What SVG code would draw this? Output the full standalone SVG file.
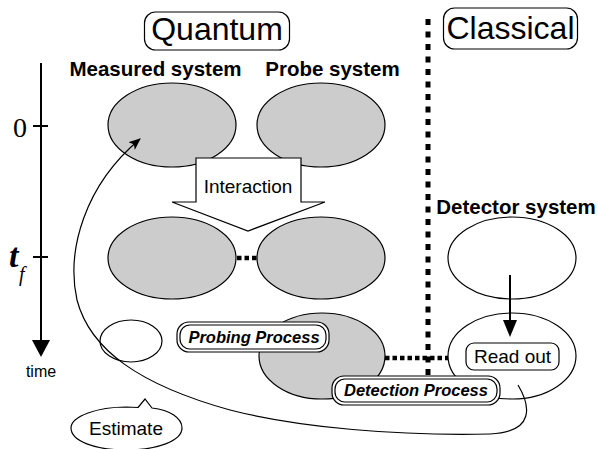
<svg xmlns="http://www.w3.org/2000/svg" width="598" height="449" viewBox="0 0 598 449">
<style>
.sans{font-family:"Liberation Sans",Arial,sans-serif;fill:#000}
.serif{font-family:"Liberation Serif","Times New Roman",serif;fill:#000}
.title{font-size:32px}
.hdr{font-size:20.5px;font-weight:bold}
.lbl{font-size:19px}
.proc{font-size:16.5px;font-weight:bold;font-style:italic}
.grey{fill:#cccccc;stroke:#000;stroke-width:1.2}
.white{fill:#fff;stroke:#000;stroke-width:1.2}
.open{fill:none;stroke:#000;stroke-width:1.2}
.dots{fill:none;stroke:#000;stroke-width:4.5;stroke-dasharray:4.5 3}
</style>
<defs>
<marker id="ah" markerWidth="12" markerHeight="10" refX="11" refY="5" orient="auto" markerUnits="userSpaceOnUse">
<path d="M0,0 L12,5 L0,10 L3,5 Z" fill="#000"/>
</marker>
</defs>
<rect width="598" height="449" fill="#fff"/>

<!-- time axis -->
<g id="time-axis">
<line x1="41" y1="63" x2="41" y2="342" stroke="#000" stroke-width="2"/>
<path d="M32,340 L50,340 L41,357 Z" fill="#000"/>
<line x1="33" y1="126" x2="48" y2="126" stroke="#000" stroke-width="2"/>
<line x1="33" y1="257" x2="48" y2="257" stroke="#000" stroke-width="2"/>
<text x="20" y="137" class="serif" font-size="28" text-anchor="middle">0</text>
<text x="9" y="267" class="serif" font-size="34" font-style="italic" font-weight="bold">t</text>
<text x="19" y="281" class="serif" font-size="20" font-style="italic">f</text>
<text x="41" y="377" class="sans" font-size="16" text-anchor="middle">time</text>
</g>

<!-- titles -->
<g id="quantum">
<rect x="144.5" y="12" width="145" height="38" rx="11" class="white"/>
<text x="217" y="40" class="sans title" text-anchor="middle">Quantum</text>
</g>
<g id="classical">
<rect x="443.5" y="8" width="134" height="41" rx="11" class="white"/>
<text x="510.5" y="39" class="sans title" text-anchor="middle">Classical</text>
</g>

<!-- boundary -->
<g id="boundary">
<line x1="428" y1="19" x2="428" y2="376" stroke="#000" stroke-width="5" stroke-dasharray="6 6.5"/>
</g>

<!-- headers -->
<text x="155.5" y="76" class="sans hdr" text-anchor="middle">Measured system</text>
<text x="332.5" y="76" class="sans hdr" text-anchor="middle">Probe system</text>
<text x="516" y="214" class="sans hdr" font-size="20.5" text-anchor="middle">Detector system</text>

<!-- top ellipses -->
<g id="measured-0"><ellipse cx="172" cy="125" rx="64" ry="42" class="grey"/></g>
<g id="probe-0"><ellipse cx="321" cy="125" rx="64" ry="42" class="grey"/></g>

<!-- interaction arrow -->
<g id="interaction">
<path d="M196,158 L301,158 L301,202 L325,202 L248,231 L172,202 L196,202 Z" class="white"/>
<text x="248" y="193" class="sans lbl" text-anchor="middle">Interaction</text>
</g>

<!-- middle ellipses -->
<g id="measured-tf"><ellipse cx="172" cy="258" rx="64" ry="41" class="grey"/></g>
<g id="probe-tf"><ellipse cx="321" cy="258" rx="64" ry="41" class="grey"/></g>
<g id="detector-tf"><ellipse cx="512" cy="258" rx="64" ry="41" class="white"/></g>

<!-- bottom row -->
<g id="estimate-state"><ellipse cx="131" cy="341" rx="31" ry="21" class="open"/></g>
<g id="probe-final"><ellipse cx="322" cy="356" rx="63" ry="43" class="grey"/></g>
<g id="detector-final">
<ellipse cx="512" cy="356" rx="64" ry="43" class="white"/>
<rect x="466" y="343" width="93" height="27" rx="8" class="white"/>
<text x="512.5" y="363" class="sans lbl" text-anchor="middle">Read out</text>
</g>

<!-- connectors -->
<g id="connectors">
<line x1="237" y1="258" x2="257" y2="258" class="dots"/>
<line x1="385" y1="358" x2="448" y2="358" class="dots"/>
<line x1="510" y1="275" x2="510" y2="322" stroke="#000" stroke-width="2"/>
<path d="M503,320 L517,320 L510,337 Z" fill="#000"/>
<path d="M518,385 C530,405 536,432 490,434 C400,436 300,428 230,410 C140,385 90,350 77,300 C66,250 85,185 140,139" class="open" marker-end="url(#ah)"/>
</g>

<!-- process labels -->
<g id="probing-process">
<rect x="177" y="322" width="152" height="30" rx="12" class="white"/>
<rect x="180" y="325" width="146" height="24" rx="10" class="open"/>
<text x="254" y="343" class="sans proc" text-anchor="middle">Probing Process</text>
</g>
<g id="detection-process">
<rect x="332" y="376" width="168" height="29" rx="12" class="white"/>
<rect x="335" y="379" width="162" height="23" rx="10" class="open"/>
<text x="416" y="396" class="sans proc" text-anchor="middle">Detection Process</text>
</g>

<!-- estimate callout -->
<g id="estimate">
<path d="M138,407.5 L145,399 L152,408 C170,410 182,418 182,428 C182,441 157,450 126,450 C95,450 71,441 71,428 C71,416 98,407 126,407 Z" class="white"/>
<text x="126" y="435" class="sans lbl" text-anchor="middle">Estimate</text>
</g>
</svg>
